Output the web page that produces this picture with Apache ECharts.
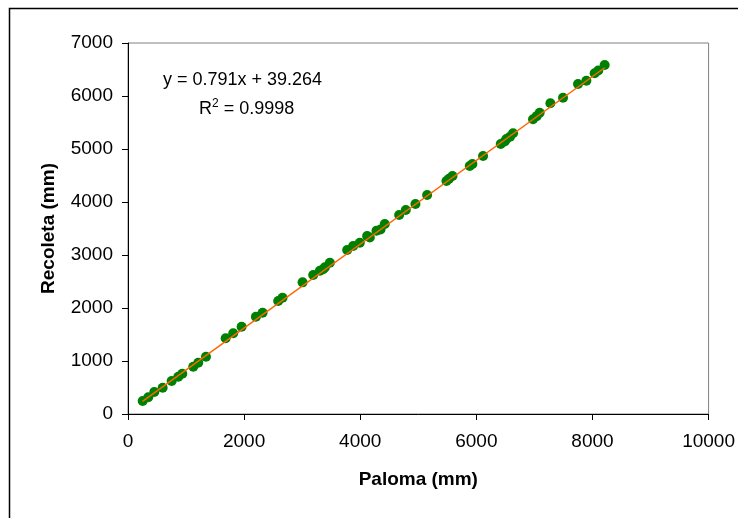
<!DOCTYPE html>
<html>
<head>
<meta charset="utf-8">
<script src="https://cdn.jsdelivr.net/npm/echarts@6/dist/echarts.min.js"></script>
<style>
  html, body { margin: 0; padding: 0; background: #fff; }
  #chart { width: 738px; height: 518px; }
</style>
</head>
<body>
<div id="chart"></div>
<script>
  // Paloma (x) vs Recoleta (y), mm
  var paloma = [253, 349, 453, 597, 752, 866, 935, 1124, 1210, 1343, 1682, 1812, 1957,
    2203, 2318, 2587, 2662, 3007, 3190, 3305, 3360, 3391, 3477, 3775, 3878, 3993, 4119,
    4165, 4280, 4350, 4423, 4670, 4785, 4951, 5152, 5485, 5530, 5589, 5886, 5932, 6116,
    6420, 6489, 6518, 6580, 6632, 6976, 7040, 7091, 7275, 7493, 7751, 7895, 8038, 8100, 8210];
  var recoleta = [245, 315, 415, 496, 623, 704, 760, 892, 968, 1081, 1428, 1523, 1647,
    1836, 1911, 2132, 2195, 2484, 2623, 2704, 2730, 2767, 2855, 3094, 3170, 3232, 3358,
    3330, 3459, 3480, 3585, 3755, 3849, 3962, 4132, 4395, 4440, 4491, 4679, 4717, 4868,
    5094, 5140, 5189, 5230, 5296, 5560, 5620, 5685, 5862, 5968, 6226, 6289, 6428, 6480, 6585];
  // trend line y = 0.791x + 39.264, drawn between first and last point
  var trendX = [250, 8210];
  var trendY = [237, 6533];

  var eqText = 'y = 0.791x + 39.264';
  var r2Text = '0.9998';

  var points = paloma.map(function (v, i) { return [v, recoleta[i]]; });
  var trend = trendX.map(function (v, i) { return [v, trendY[i]]; });

  var font = 'Liberation Sans, Arial, sans-serif';
  var plain = function (v) { return String(v); };
  var chart = echarts.init(document.getElementById('chart'));
  chart.setOption({
    animation: false,
    grid: {
      left: 128, top: 43, right: 29, bottom: 104,
      show: true, borderColor: '#808080', borderWidth: 1, backgroundColor: '#fff'
    },
    xAxis: {
      type: 'value', min: 0, max: 10000, interval: 2000,
      name: 'Paloma (mm)', nameLocation: 'middle', nameGap: 56,
      nameTextStyle: { fontFamily: font, fontSize: 19, fontWeight: 'bold', color: '#000' },
      axisLine: { lineStyle: { color: '#000', width: 1 } },
      axisTick: { length: 6, lineStyle: { color: '#000' } },
      axisLabel: { margin: 18, fontFamily: font, fontSize: 19, color: '#000', formatter: plain },
      splitLine: { show: false }
    },
    yAxis: {
      type: 'value', min: 0, max: 7000, interval: 1000,
      name: 'Recoleta (mm)', nameLocation: 'middle', nameGap: 70,
      nameTextStyle: { fontFamily: font, fontSize: 19, fontWeight: 'bold', color: '#000' },
      axisLine: { show: true, lineStyle: { color: '#000', width: 1 } },
      axisTick: { show: true, length: 6, lineStyle: { color: '#000' } },
      axisLabel: { margin: 15, fontFamily: font, fontSize: 19, color: '#000', formatter: plain },
      splitLine: { show: false }
    },
    series: [
      {
        type: 'scatter', data: points, symbolSize: 10,
        itemStyle: { color: '#008000', opacity: 1 }, z: 2
      },
      {
        type: 'line', data: trend, symbol: 'none',
        lineStyle: { color: '#FF6600', width: 1.5 }, z: 3
      }
    ],
    graphic: [
      {
        type: 'rect', left: 7, top: 6, silent: true,
        shape: { width: 800, height: 600 },
        style: { fill: 'none', stroke: '#000', lineWidth: 1.5 }
      },
      {
        type: 'text', left: 163, top: 71,
        style: { text: eqText, font: '18px ' + font, fill: '#000' }
      },
      {
        type: 'text', left: 199, top: 98,
        style: {
          text: '{a|R}{s|2}{a| = ' + r2Text + '}',
          rich: {
            a: { fontFamily: font, fontSize: 18, color: '#000', verticalAlign: 'bottom' },
            s: { fontFamily: font, fontSize: 12, color: '#000', verticalAlign: 'top', padding: [0, 0, 8, 0] }
          }
        }
      }
    ]
  });
</script>
</body>
</html>
